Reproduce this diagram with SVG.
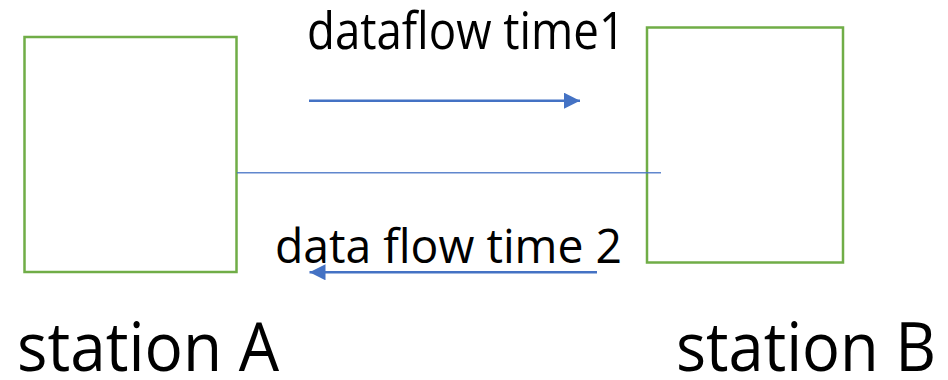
<svg xmlns="http://www.w3.org/2000/svg" width="948" height="380" viewBox="0 0 948 380">
  <style>
    .station { fill: none; stroke: #70AD47; stroke-width: 2.5; }
    .flow { stroke: #4472C4; stroke-width: 2.5; fill: none; }
    .link { stroke: #4472C4; stroke-width: 1.5; fill: none; opacity: 0.85; }
    .label { font-family: "Open Sans", "Noto Sans", sans-serif; fill: #000000; }
  </style>
  <defs>
    <marker id="arrowhead" viewBox="0 0 16 16" refX="16" refY="8" markerWidth="16" markerHeight="16" markerUnits="userSpaceOnUse" orient="auto">
      <path d="M0,0 L16,8 L0,16 Z" fill="#4472C4"/>
    </marker>
  </defs>
  <rect width="948" height="380" fill="#ffffff"/>

  <g id="station-a">
    <rect class="station" x="24.5" y="37" width="212" height="235"/>
    <text class="label" x="17" y="371" font-size="67" textLength="262" lengthAdjust="spacingAndGlyphs">station A</text>
  </g>

  <g id="station-b">
    <rect class="station" x="647" y="27.5" width="196" height="235"/>
    <text class="label" x="676" y="371" font-size="67" textLength="260" lengthAdjust="spacingAndGlyphs">station B</text>
  </g>

  <g id="connectors">
    <line class="link" x1="237" y1="172.7" x2="661" y2="172.7"/>
    <line class="flow" x1="309" y1="100.7" x2="580" y2="100.7" marker-end="url(#arrowhead)"/>
    <line class="flow" x1="597" y1="272.3" x2="309.5" y2="272.3" marker-end="url(#arrowhead)"/>
    <text class="label" x="307" y="48.5" font-size="51" textLength="318" lengthAdjust="spacingAndGlyphs">dataflow time1</text>
    <text class="label" x="275" y="262.5" font-size="48" textLength="347" lengthAdjust="spacingAndGlyphs">data flow time 2</text>
  </g>
</svg>
